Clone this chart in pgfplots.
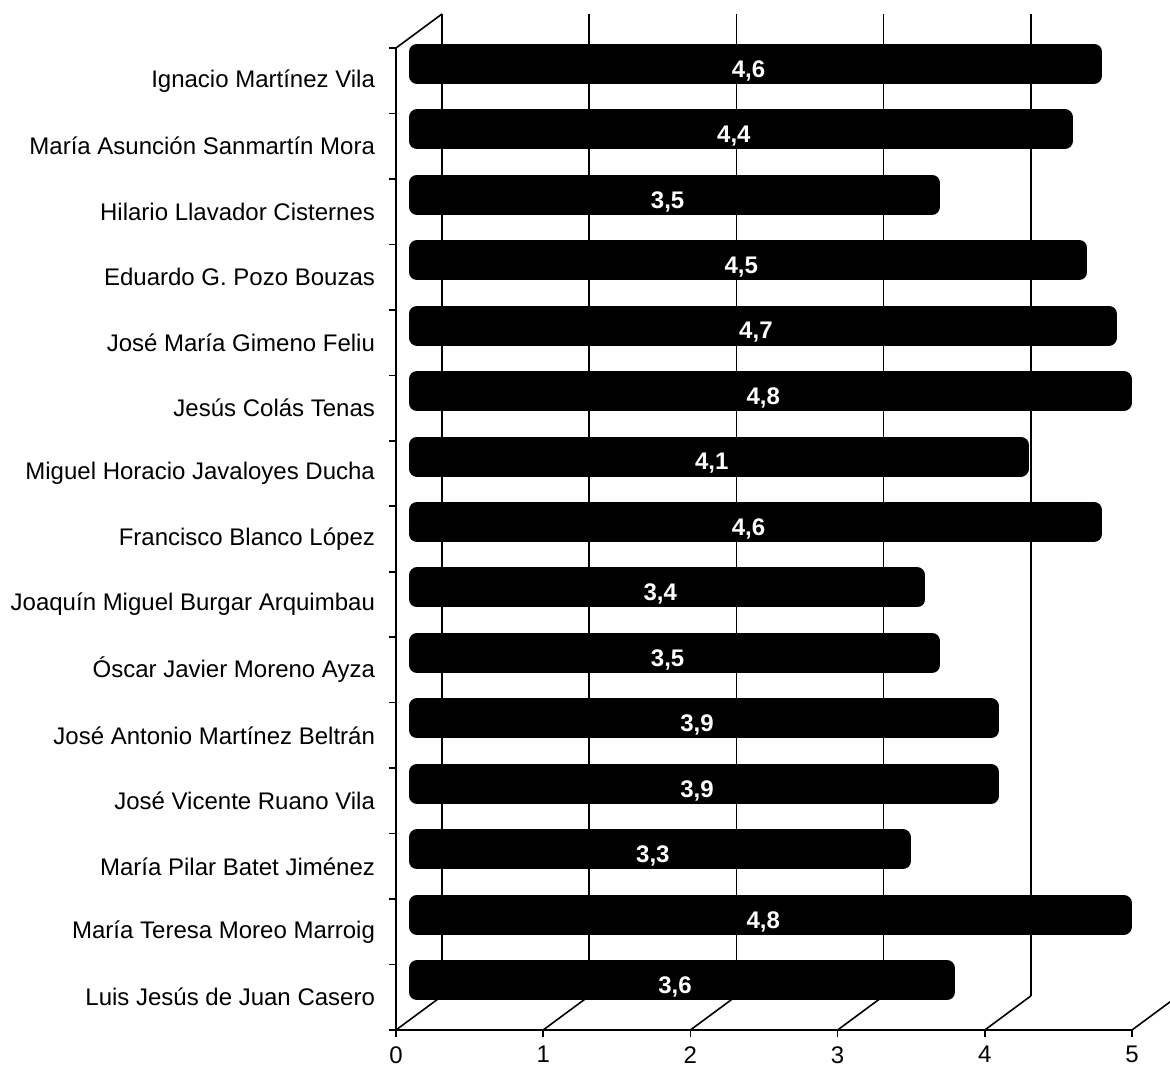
\documentclass[border=0pt]{standalone}
\usepackage{pgfplots}
\pgfplotsset{compat=1.18}
\usepackage{pgfplotstable}
\usepackage{fontspec}
\setmainfont{Liberation Sans}

\pgfplotstableread{
idx val lab
0 3.6 3,6
1 4.8 4,8
2 3.3 3,3
3 3.9 3,9
4 3.9 3,9
5 3.5 3,5
6 3.4 3,4
7 4.6 4,6
8 4.1 4,1
9 4.8 4,8
10 4.7 4,7
11 4.5 4,5
12 3.5 3,5
13 4.4 4,4
14 4.6 4,6
}\datatable

\begin{document}
\begin{tikzpicture}
\path[use as bounding box] (-198pt,-19pt) rectangle (387pt,515pt);
\begin{axis}[
  at={(0,0)}, anchor=south west,
  scale only axis, width=368pt, height=491pt,
  xmin=0, xmax=5, ymin=-0.5, ymax=14.5,
  clip=false,
  axis lines*=left,
  axis line style={black, line width=0.8pt, -},
  xtick={0,1,2,3,4,5},
  ytick={-0.5,0.5,1.5,2.5,3.5,4.5,5.5,6.5,7.5,8.5,9.5,10.5,11.5,12.5,13.5,14.5},
  yticklabels={Luis Jesús de Juan Casero, María Teresa Moreo Marroig, María Pilar Batet Jiménez, José Vicente Ruano Vila, José Antonio Martínez Beltrán, Óscar Javier Moreno Ayza, Joaquín Miguel Burgar Arquimbau, Francisco Blanco López, Miguel Horacio Javaloyes Ducha, Jesús Colás Tenas, José María Gimeno Feliu, Eduardo G. Pozo Bouzas, Hilario Llavador Cisternes, María Asunción Sanmartín Mora, Ignacio Martínez Vila, {}},
  yticklabel style={yshift=16.37pt, xshift=-3.5pt},
  xticklabel style={yshift=-1.2pt},
  tick align=outside,
  major tick length=3.5pt,
  tick style={black, line width=0.8pt},
  ticklabel style={font=\fontsize{12}{14}\selectfont},
  /pgf/number format/assume math mode=true,
  xmajorgrids,
  major x grid style={black, line width=0.8pt, xshift=23pt, yshift=17pt},
]
\pgfplotsinvokeforeach{0,1,2,3,4,5}{
  \draw[black, line width=0.8pt] (axis cs:#1,-0.5) -- ++(23pt,17pt);
}
\draw[black, line width=0.8pt] (axis cs:0,14.5) -- ++(23pt,17pt);
\addplot[xbar, bar width=12pt, fill=black, draw=black, line width=8pt,
  line join=round, xshift=10.5pt, yshift=8.5pt]
  table[x=val, y=idx] {\datatable};
\addplot[draw=none, mark=none, nodes near coords, point meta=explicit symbolic,
  every node near coord/.append style={anchor=center, text=white,
    font=\bfseries\fontsize{12}{14}\selectfont, xshift=7pt, yshift=5pt}]
  table[x expr=\thisrow{val}/2, y=idx, meta=lab] {\datatable};
\end{axis}
\end{tikzpicture}
\end{document}
